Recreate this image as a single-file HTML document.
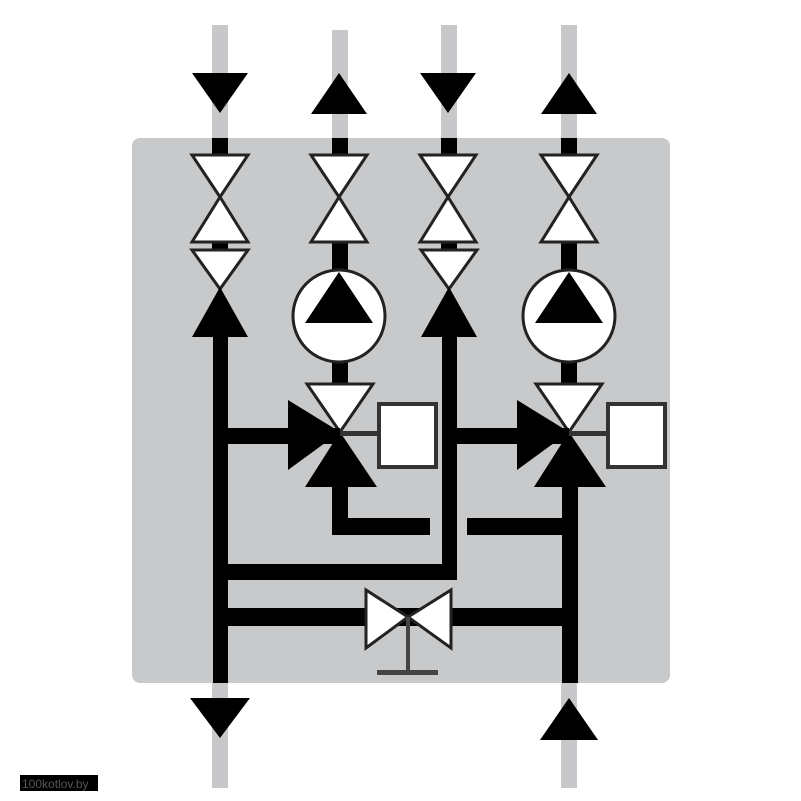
<!DOCTYPE html>
<html><head><style>body{margin:0;background:#fff}svg{display:block}</style></head><body>
<svg width="801" height="801" viewBox="0 0 801 801" xmlns="http://www.w3.org/2000/svg">
<defs>
<g id="valve">
<polygon points="-28,0 28,0 0,42" fill="#fff" stroke="#222" stroke-width="3"/>
<polygon points="-28,87 28,87 0,42" fill="#fff" stroke="#222" stroke-width="3"/>
</g>
<g id="mix">
<polygon points="-33,-48 33,-48 0,0" fill="#fff" stroke="#222" stroke-width="3"/>
<polygon points="-52,-32 -52,38 0,0" fill="#000"/>
<polygon points="-35,55 37,55 0,0" fill="#000"/>
<rect x="-52" y="-4" width="52" height="16" fill="#000"/>
<rect x="0" y="-1" width="40" height="5" fill="#333"/>
<rect x="39" y="-28" width="57" height="63" fill="#fff" stroke="#333" stroke-width="4"/>
</g>
</defs>
<!-- grey pipes outside -->
<g fill="#c8c8ca">
<rect x="212" y="25" width="16" height="115"/>
<rect x="332" y="30" width="16" height="110"/>
<rect x="441" y="25" width="16" height="115"/>
<rect x="561" y="25" width="16" height="115"/>
<rect x="212" y="680" width="16" height="108"/>
<rect x="561" y="680" width="16" height="108"/>
</g>
<!-- box -->
<rect x="132" y="138" width="538" height="545" rx="8" fill="#c8c9cb"/>
<!-- outer arrows -->
<polygon points="192,73 248,73 220,113" fill="#000"/>
<polygon points="420,73 476,73 448,113" fill="#000"/>
<polygon points="339,73 311,114 367,114" fill="#000"/>
<polygon points="569,73 541,114 597,114" fill="#000"/>
<polygon points="190,698 250,698 220,738" fill="#000"/>
<polygon points="569,698 540,740 598,740" fill="#000"/>
<!-- black pipes -->
<g fill="#000">
<rect x="212" y="138" width="16" height="20"/><rect x="332" y="138" width="16" height="20"/>
<rect x="441" y="138" width="16" height="20"/><rect x="561" y="138" width="16" height="20"/>
<rect x="212" y="240" width="16" height="12"/><rect x="441" y="240" width="16" height="12"/>
<rect x="332" y="240" width="16" height="34"/><rect x="561" y="240" width="16" height="34"/>
<rect x="332" y="358" width="16" height="26"/><rect x="561" y="358" width="16" height="26"/>
<rect x="213" y="330" width="15" height="353"/>
<rect x="442" y="330" width="15" height="250"/>
<rect x="213" y="564" width="244" height="16"/>
<rect x="213" y="608" width="364" height="18"/>
<rect x="562" y="480" width="16" height="203"/>
<rect x="332" y="480" width="16" height="55"/>
<rect x="332" y="518" width="98" height="17"/>
<rect x="467" y="518" width="100" height="17"/>
<rect x="228" y="428" width="70" height="16"/>
<rect x="457" y="428" width="70" height="16"/>
</g>
<!-- isolating valves -->
<use href="#valve" x="220" y="155"/><use href="#valve" x="339" y="155"/>
<use href="#valve" x="448" y="155"/><use href="#valve" x="569" y="155"/>
<!-- check valves col1/col3 -->
<polygon points="192,250 248,250 220,289" fill="#fff" stroke="#222" stroke-width="3"/>
<polygon points="192,337 248,337 220,287" fill="#000"/>
<polygon points="421,250 477,250 449,289" fill="#fff" stroke="#222" stroke-width="3"/>
<polygon points="421,337 477,337 449,287" fill="#000"/>
<!-- pumps -->
<circle cx="339" cy="316" r="46" fill="#fff" stroke="#222" stroke-width="3"/>
<polygon points="339,272 305,323 373,323" fill="#000"/>
<circle cx="569" cy="316" r="46" fill="#fff" stroke="#222" stroke-width="3"/>
<polygon points="569,272 535,323 603,323" fill="#000"/>
<!-- mixing valves -->
<use href="#mix" x="340" y="432"/>
<use href="#mix" x="569" y="432"/>
<!-- bypass valve -->
<polygon points="366,590 366,648 408,617" fill="#fff" stroke="#222" stroke-width="3"/>
<polygon points="451,590 451,648 408,617" fill="#fff" stroke="#222" stroke-width="3"/>
<rect x="406" y="617" width="4" height="55" fill="#444"/>
<rect x="377" y="670" width="61" height="5" fill="#444"/>
<!-- watermark -->
<rect x="20" y="775" width="78" height="16" fill="#000"/>
<text x="22" y="788" font-family="Liberation Sans, sans-serif" font-size="12" fill="#555">100kotlov.by</text>
</svg>
</body></html>
